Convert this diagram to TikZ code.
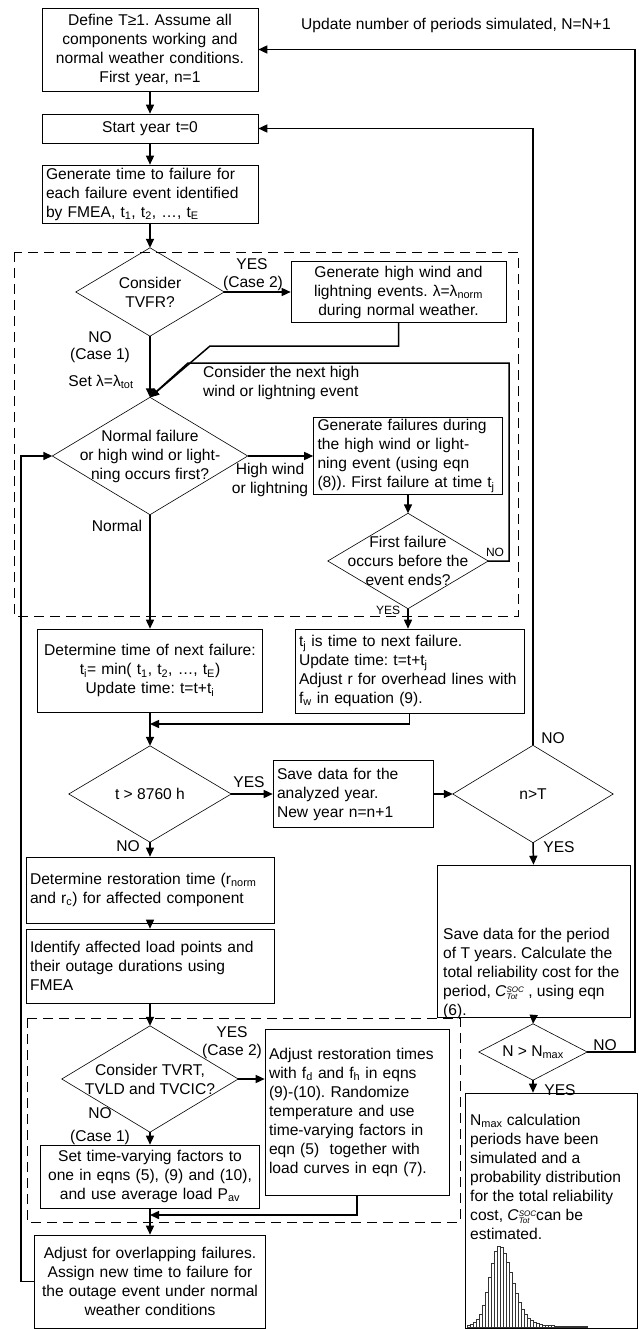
\documentclass[tikz,border=0pt]{standalone}
\usepackage{fontspec}
\setmainfont{Liberation Sans}
\usepackage{tikz}
\usetikzlibrary{arrows.meta}
\frenchspacing
\newcommand{\txtsize}{\fontsize{15.6}{19}\selectfont}
\newcommand{\lblsize}{\fontsize{12}{14}\selectfont}
\newcommand{\idxsize}{\fontsize{8}{8}\selectfont}
\newcommand{\Csoc}{\textit{C}\rlap{\raisebox{-2.5pt}{\idxsize\textit{Tot}}}\raisebox{4.5pt}{\idxsize\textit{SOC}}}
\tikzset{
  box/.style={draw, line width=0.6pt, inner xsep=4pt, inner ysep=2pt, font=\txtsize},
  decision/.style={inner sep=0pt, align=center, font=\txtsize},
  arr/.style={line width=1.5pt, -{Triangle[length=9pt,width=8pt]}},
  lbl/.style={inner sep=0pt, align=center, font=\txtsize},
  small/.style={inner sep=0pt, font=\lblsize},
  dashbox/.style={draw, line width=0.6pt, dash pattern=on 10pt off 6pt},
  bar/.style={draw=black!80, line width=0.4pt, fill=white}
}

\begin{document}
\begin{tikzpicture}[x=1pt,y=-1pt]
  \useasboundingbox (0,0) rectangle (639,1329);

  % start of the simulation
  \node[box, text width=208pt, minimum height=83pt, align=center] (define) at (150,49.5)
    {Define T≥1. Assume all\\components working and\\normal weather conditions.\\First year, n=1};
  \node[box, text width=208pt, minimum height=29pt, align=center] (start) at (150,128.5) {Start year t=0};
  \node[box, text width=208pt, minimum height=58pt, align=left] (events) at (150,194)
    {Generate time to failure for\\each failure event identified\\by FMEA, t\textsubscript{1}, t\textsubscript{2}, …, t\textsubscript{E}};

  % weather block
  \draw[dashbox] (14,252) rectangle (518,616);
  \node[decision, minimum width=148pt, minimum height=88pt] (tvfr) at (150,292) {Consider\\TVFR?};
  \node[box, text width=207pt, minimum height=61pt, align=center] (wind) at (398.5,292)
    {Generate high wind and\\lightning events. λ=λ\textsubscript{norm}\\during normal weather.};
  \node[decision, minimum width=195pt, minimum height=117pt] (fail) at (150,456)
    {Normal failure\\or high wind or light-\\ning occurs first?};
  \node[box, text width=181pt, minimum height=76pt, align=left] (gen) at (408,456)
    {Generate failures during\\the high wind or light-\\ning event (using eqn\\(8)). First failure at time t\textsubscript{j}};
  \node[decision, minimum width=160pt, minimum height=95pt] (ends) at (408,561)
    {First failure\\occurs before the\\event ends?};

  % next failure
  \node[box, text width=217pt, minimum height=83pt, align=center] (next) at (150,670.5)
    {Determine time of next failure:\\t\textsubscript{i}= min( t\textsubscript{1}, t\textsubscript{2}, …, t\textsubscript{E})\\Update time: t=t+t\textsubscript{i}};
  \node[box, text width=221pt, minimum height=84pt, align=left] (tj) at (409.5,671)
    {t\textsubscript{j} is time to next failure.\\Update time: t=t+t\textsubscript{j}\\Adjust r for overhead lines with\\f\textsubscript{w} in equation (9).};
  \node[decision, minimum width=162pt, minimum height=96pt] (hours) at (150,794) {t > 8760 h};
  \node[box, text width=152pt, minimum height=67pt, align=left] (save) at (353,794)
    {Save data for the\\analyzed year.\\New year n=n+1};
  \node[decision, minimum width=160pt, minimum height=97pt] (years) at (533,794) {n>T};

  % restoration
  \node[box, text width=240pt, minimum height=66pt, align=left] (restore) at (150,890)
    {Determine restoration time (r\textsubscript{norm}\\and r\textsubscript{c}) for affected component};
  \node[box, text width=240pt, minimum height=74pt, align=left] (affect) at (150,966)
    {Identify affected load points and\\their outage durations using\\FMEA};

  % time-varying block
  \draw[dashbox] (27,1018) rectangle (460,1222);
  \node[decision, minimum width=176pt, minimum height=106pt] (tvrt) at (150,1079)
    {Consider TVRT,\\TVLD and TVCIC?};
  \node[box, text width=176pt, minimum height=166pt, align=left] (adjust) at (357,1112)
    {Adjust restoration times\\with f\textsubscript{d} and f\textsubscript{h} in eqns\\(9)-(10). Randomize\\temperature and use\\time-varying factors in\\eqn (5)\ \ together with\\load curves in eqn (7).};
  \node[box, text width=211pt, minimum height=63pt, align=center] (ones) at (150,1176.5)
    {Set time-varying factors to\\one in eqns (5), (9) and (10),\\and use average load P\textsubscript{av}};
  \node[box, text width=223pt, minimum height=93pt, align=center] (overlap) at (150,1281.5)
    {Adjust for overlapping failures.\\Assign new time to failure for\\the outage event under normal\\weather conditions};

  % period results
  \node[box, minimum width=193pt, minimum height=152pt] (period) at (533.5,941) {};
  \node[lbl, align=left, anchor=north west] (periodtxt) at (443,928)
    {Save data for the period\\of T years. Calculate the\\total reliability cost for the\\period, \Csoc{} , using eqn\\(6).};
  \node[decision, minimum width=108pt, minimum height=56pt] (runs) at (533,1052) {N > N\textsubscript{max}};
  \node[box, minimum width=172pt, minimum height=235pt] (dist) at (551,1210.5) {};
  \node[lbl, align=left, anchor=north west] (disttxt) at (470,1114)
    {N\textsubscript{max} calculation\\periods have been\\simulated and a\\probability distribution\\for the total reliability\\cost, \Csoc{}can be\\estimated.};

  % diamond outlines
  \foreach \d in {tvfr,fail,ends,hours,years,tvrt,runs}
    \draw[line width=0.6pt] (\d.north) -- (\d.east) -- (\d.south) -- (\d.west) -- cycle;

  % histogram of the total cost
  \foreach \h [count=\i from 0] in {2,3,5,8,13,22,35,50,64,76,81,80,74,65,55,44,34,25,18,13,9,7,5,4,3,2,2,1.5,1.5,1,1,1,0.8,0.8,0.6,0.6,0.5,0.5,0.5,0.5}
    \draw[bar] ({467+3*\i},1327) rectangle ++(3,-\h);

  % branch labels
  \node[lbl] (yes1) at (252,264) {YES};
  \node[lbl] (case2a) at (253,283) {(Case 2)};
  \node[lbl] (no1) at (100,337) {NO};
  \node[lbl] (case1a) at (100,355) {(Case 1)};
  \node[lbl] (setlam) at (101,382) {Set λ=λ\textsubscript{tot}};
  \node[lbl, align=left, anchor=west] (nextev) at (203,383) {Consider the next high\\wind or lightning event};
  \node[lbl] (hw) at (270,480) {High wind\\or lightning};
  \node[lbl] (normal) at (117,526) {Normal};
  \node[small] (no2) at (495,552) {NO};
  \node[small] (yes2) at (388,610) {YES};
  \node[lbl] (no3) at (553,738) {NO};
  \node[lbl] (yes3) at (249,782) {YES};
  \node[lbl] (no4) at (128,846) {NO};
  \node[lbl] (yes4) at (559,847) {YES};
  \node[lbl] (yes5) at (232,1032) {YES};
  \node[lbl] (case2b) at (232,1051) {(Case 2)};
  \node[lbl] (no5) at (100,1113) {NO};
  \node[lbl] (case1b) at (100,1137) {(Case 1)};
  \node[lbl] (no6) at (605,1045) {NO};
  \node[lbl] (yes6) at (560,1090) {YES};
  \node[lbl] (update) at (456,25) {Update number of periods simulated, N=N+1};

  % bends
  \coordinate (wbend) at (210,346);
  \coordinate (nbend) at (188,363);
  \coordinate (nright) at (509,363);
  \coordinate (join1) at (150,724);
  \coordinate (join2) at (150,1215);
  \coordinate (loopN) at (635,0);
  \coordinate (loopL) at (21,0);

  % connectors
  \draw[arr] (define.south) -- (start.north);
  \draw[arr] (start.south) -- (events.north);
  \draw[arr] (events.south) -- (tvfr.north);
  \draw[arr] (tvfr.east) -- (wind.west);
  \draw[arr] (tvfr.south) -- (fail.north);
  \draw[arr] (wind.south) |- (wbend) -- (fail.north);
  \draw[arr] (ends.east) -| (nright) -- (nbend) -- (fail.north);
  \draw[arr] (fail.east) -- (gen.west);
  \draw[arr] (gen.south) -- (ends.north);
  \draw[arr] (fail.south) -- (next.north);
  \draw[arr] (ends.south) -- (ends.south |- tj.north);
  \draw[arr] (next.south) -- (hours.north);
  \draw[arr] (tj.south) |- (join1);
  \draw[arr] (hours.east) -- (save.west);
  \draw[arr] (save.east) -- (years.west);
  \draw[arr] (years.north) |- (start.east);
  \draw[arr] (years.south) -- (period.north);
  \draw[arr] (period.south) -- (runs.north);
  \draw[arr] (runs.east) -| (loopN |- define.east) -- (define.east);
  \draw[arr] (runs.south) -- (runs.south |- dist.north);
  \draw[arr] (hours.south) -- (restore.north);
  \draw[arr] (restore.south) -- (affect.north);
  \draw[arr] (affect.south) -- (tvrt.north);
  \draw[arr] (tvrt.east) -- (tvrt.east -| adjust.west);
  \draw[arr] (tvrt.south) -- (ones.north);
  \draw[arr] (adjust.south) |- (join2);
  \draw[arr] (ones.south) -- (overlap.north);
  \draw[arr] (overlap.west) -| (loopL |- fail.west) -- (fail.west);
\end{tikzpicture}
\end{document}
